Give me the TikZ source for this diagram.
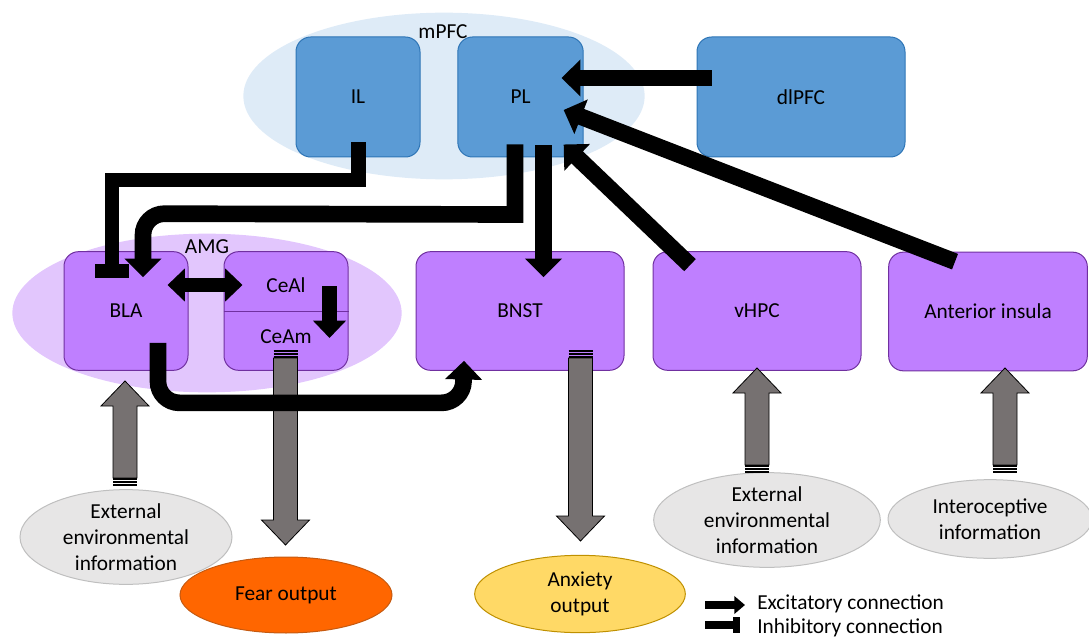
\documentclass[tikz,border=0pt]{standalone}
\usepackage{fontspec}
\setmainfont{Carlito}
\usetikzlibrary{arrows.meta,calc,shapes.geometric}
\definecolor{pfcfill}{HTML}{DEEBF7}
\definecolor{bluefill}{HTML}{5B9BD5}
\definecolor{blueline}{HTML}{2E75B6}
\definecolor{purplefill}{HTML}{BF7FFF}
\definecolor{purpleline}{HTML}{7030A0}
\definecolor{amgfill}{HTML}{E2C6FD}
\definecolor{grayarrow}{HTML}{767171}
\definecolor{infofill}{HTML}{E7E6E6}
\definecolor{infoline}{HTML}{BFBFBF}
\definecolor{fearfill}{HTML}{FF6600}
\definecolor{fearline}{HTML}{C55A11}
\definecolor{anxfill}{HTML}{FFD966}
\definecolor{anxline}{HTML}{BF9000}
\newcommand\grayarrow[4]{% x, tail y, tip y, sign (+1 up, -1 down)
  \pgfmathsetmacro\hb{#3+#4*25}
  \draw[garrow] (#1-12,#2) -- (#1-12,\hb) -- (#1-24,\hb) -- (#1,#3) -- (#1+24,\hb) -- (#1+12,\hb) -- (#1+12,#2) -- cycle;
  \draw[line width=0.8pt] (#1-12,#2+#4*1) -- (#1+12,#2+#4*1);
  \draw[line width=0.8pt] (#1-12,#2+#4*4) -- (#1+12,#2+#4*4);
  \draw[line width=0.8pt] (#1-12,#2+#4*7) -- (#1+12,#2+#4*7);
}
\begin{document}
\begin{tikzpicture}[x=0.75pt,y=-0.75pt,
  font=\fontsize{16}{19.5}\selectfont,
  region/.style={ellipse, draw=none, inner sep=0pt},
  bbox/.style={draw=blueline, fill=bluefill, line width=0.75pt, rounded corners=11pt, minimum height=90pt, inner sep=0pt},
  pbox/.style={draw=purpleline, fill=purplefill, line width=0.75pt, rounded corners=11pt, minimum height=89pt, inner sep=0pt},
  oval/.style={ellipse, line width=0.75pt, inner sep=0pt, align=center},
  exc/.style={line width=12.5pt, -{Triangle[width=27pt,length=14pt]}},
  excs/.style={line width=11pt, -{Triangle[width=24pt,length=13pt]}},
  inh/.style={line width=11pt, -{Rectangle[width=26pt,length=10pt]}},
  garrow/.style={fill=grayarrow, draw=black, line width=0.6pt, line join=miter}
]
\useasboundingbox (0,0) rectangle (1089,638);
% regions
\node[region, fill=pfcfill, minimum width=301pt, minimum height=125pt] (mpfc) at (444,96) {};
\node (mpfclab) at (443,32) {mPFC};
\node[region, fill=amgfill, minimum width=292pt, minimum height=119pt] (amg) at (207,313) {};
\node (amglab) at (207,247) {AMG};
% blue boxes
\node[bbox, minimum width=93pt] (IL) at (358,97) {IL};
\node[bbox, minimum width=94pt] (PL) at (520.5,97) {PL};
\node[bbox, minimum width=156pt] (dlPFC) at (801,97) {dlPFC};
% purple boxes
\node[pbox, minimum width=93pt] (BLA) at (126,311) {BLA};
\node[pbox, minimum width=93pt] (CeA) at (286,311) {};
\draw[purpleline, line width=0.5pt] (CeA.west) -- (CeA.east);
\node (CeAl) at (286,285) {CeAl};
\node (CeAm) at (286,337) {CeAm};
\node[pbox, minimum width=156pt] (BNST) at (520,311) {BNST};
\node[pbox, minimum width=156pt] (vHPC) at (757,311) {vHPC};
\node[pbox, minimum width=149pt] (AI) at (988,311.5) {Anterior insula};
% ovals
\node[oval, draw=infoline, fill=infofill, minimum width=159pt, minimum height=61pt] (ext1) at (126,537) {External\\environmental\\information};
\node[oval, draw=fearline, fill=fearfill, minimum width=159pt, minimum height=57pt] (fear) at (286,595) {Fear output};
\node[oval, draw=anxline, fill=anxfill, minimum width=158pt, minimum height=58pt] (anx) at (580,594) {Anxiety\\output};
\node[oval, draw=infoline, fill=infofill, minimum width=170pt, minimum height=60pt] (ext2) at (767,520) {External\\environmental\\information};
\node[oval, draw=infoline, fill=infofill, minimum width=153pt, minimum height=59pt] (intero) at (990,519) {Interoceptive\\information};
% gray arrows
\grayarrow{125}{478}{381}{1}
\grayarrow{285.5}{358}{545}{-1}
\grayarrow{580.5}{358}{541}{-1}
\grayarrow{757}{465}{368}{1}
\grayarrow{1005}{465}{368}{1}
% black connections
\draw[inh, line join=miter] ($(IL.south)+(0.5,-15)$) |- ($(BLA.north)+(-14,-71)$) -- ($(BLA.north)+(-14,26.5)$);
\draw[exc, line join=miter] ($(PL.south)+(-5.5,-13)$) -- ($(PL.south)+(-5.5,57)$) [rounded corners=16pt] -- ($(BLA.north)+(17,-37.5)$) -- ($(BLA.north)+(17,26)$);
\draw[exc] ($(PL.south)+(23,-12)$) -- ($(BNST.north)+(23.5,26)$);
\draw[exc] ($(dlPFC.west)+(15,-19)$) -- ($(PL.east)+(-22,-19)$);
\draw[exc] ($(vHPC.north)+(-67,14)$) -- ($(PL.south east)+(-20,-13)$);
\draw[exc] ($(AI.north)+(-33,10)$) -- ($(PL.east)+(-20,13)$);
\draw[excs, {Triangle[width=24pt,length=13pt]}-{Triangle[width=24pt,length=13pt]}] ($(BLA.east)+(-21,-26)$) -- ($(CeA.west)+(19,-26)$);
\draw[excs] ($(CeA.east)+(-19,-25)$) -- ($(CeA.east)+(-19,27)$);
\draw[exc, rounded corners=16pt] ($(BLA.south)+(32,-28)$) -- ($(BLA.south)+(32,32)$) -- ($(BNST.south)+(-57,32)$) -- ($(BNST.south)+(-56,-10)$);
% legend
\coordinate (ex1) at (705,605);
\coordinate (ex2) at (745,605);
\coordinate (in1) at (705,625);
\coordinate (in2) at (740,625);
\draw[line width=6pt, -{Triangle[width=13pt,length=8pt]}] (ex1) -- (ex2);
\draw[line width=6pt, -{Rectangle[width=12pt,length=5pt]}] (in1) -- (in2);
\node[anchor=west, inner sep=0pt] (extext) at (757,604) {Excitatory connection};
\node[anchor=west, inner sep=0pt] (intext) at (757,628) {Inhibitory connection};
\end{tikzpicture}
\end{document}
